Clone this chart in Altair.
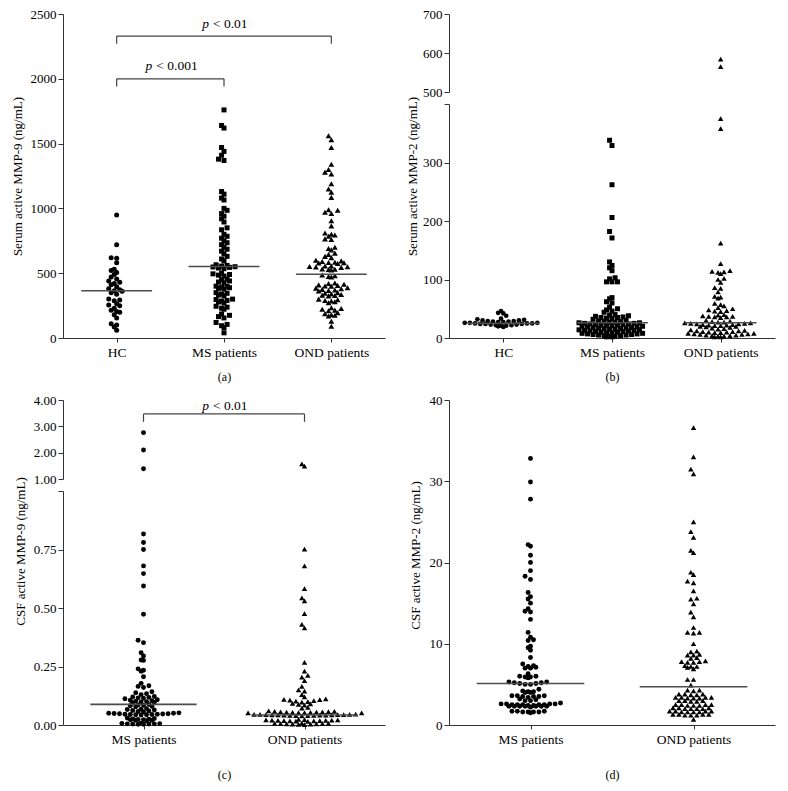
import math
import altair as alt
import pandas as pd

# ---------------- data ----------------
cats3 = ["HC", "MS patients", "OND patients"]
cats2 = ["MS patients", "OND patients"]

# (a) serum active MMP-9 (ng/mL)
hc_a = [950, 720, 620, 615, 580, 530, 520, 505, 490, 470, 455, 440, 430, 420, 410, 395,
        380, 372, 365, 360, 350, 338, 300, 293, 288, 265, 255, 248, 230, 215, 205, 198,
        180, 155, 110, 100, 85, 60]
ms_a = [1760, 1640, 1620, 1470, 1440, 1410, 1380, 1370,
        1130, 1110, 1080, 1065, 1000, 985, 960, 940, 920, 895, 850, 835,
        800, 785, 770, 750, 735, 720, 700, 685, 670, 650, 630, 610, 595,
        565, 560, 555, 550, 548, 545, 540, 535, 500, 495, 490, 485, 478,
        455, 450, 440, 432, 425, 400, 398, 392, 388, 383, 378,
        350, 345, 340, 332, 325, 300, 297, 290, 285, 278, 270,
        245, 238, 230, 222, 185, 175, 165, 155, 120, 105, 95, 80, 40]
ond_a = [1560, 1530, 1470, 1340, 1300, 1280, 1265, 1190, 1150, 1125, 1085,
         990, 985, 970, 960, 905, 865, 810, 800, 795, 785, 765, 760,
         700, 690, 680, 655, 645, 630, 620,
         600, 595, 590, 585, 582, 580, 578, 575, 556, 555, 552, 550, 548, 545,
         532, 530, 528, 525, 486, 480, 475, 470,
         425, 420, 415, 410, 405, 402, 400, 388, 385, 380, 375, 370, 366, 363,
         350, 345, 340, 335, 330, 328, 325, 300, 295, 290, 285, 280, 272,
         234, 228, 222, 215, 210, 195, 188, 180, 175, 170, 130, 90]
median_a = [365, 552, 492]

# (b) serum active MMP-2 (ng/mL)
hc_b = [46, 43, 42, 38, 33, 32, 31, 30, 30, 29, 29, 28, 28, 27, 27, 26, 26, 26, 25, 25,
        25, 24, 24, 24, 23, 23, 22, 22, 21, 21, 20, 19]
ms_b = [338, 329, 262, 206, 182, 171, 130, 124, 120, 115, 103, 101, 96, 96, 96,
        69, 67, 62, 60, 53, 50, 48, 46, 44, 40, 39, 38, 37, 36, 35, 35, 34, 33, 32,
        30, 29, 28, 28, 27, 27, 26, 26, 25, 25, 24, 24, 23, 23, 22, 22, 21, 21, 20, 20,
        19, 19, 18, 18, 17, 17, 16, 16, 15, 15, 14, 14, 13, 13, 12, 12, 11, 11, 10, 10,
        9, 9, 8, 8, 7, 7, 6, 6, 5, 5, 4, 4, 3, 3, 2, 2]
ond_b = [584, 565, 375, 358, 162, 127, 115, 114, 113, 112, 110, 102, 100, 95, 86, 85, 79,
         71, 70, 68, 59, 57, 55, 52, 50, 48, 47, 46, 45, 40, 39, 38, 37, 37, 36, 36, 35,
         30, 29, 28, 27, 27, 26, 26, 25, 25, 24, 24, 23, 23, 22, 22, 21, 21, 20, 20, 19,
         18, 17, 16, 15, 14, 13, 12, 12, 11, 11, 10, 10, 9, 9, 8, 8, 7, 7, 6, 6, 5, 5,
         4, 4, 3, 3, 2, 2]
median_b = [25, 26, 26]

# (c) CSF active MMP-9 (ng/mL)
ms_c = [2.76, 2.10, 1.39,
        0.816, 0.78, 0.75, 0.68, 0.647, 0.594, 0.473, 0.362, 0.352, 0.309, 0.295, 0.278,
        0.276, 0.240, 0.234, 0.230, 0.206, 0.178, 0.168, 0.165, 0.160, 0.142, 0.138,
        0.134, 0.130, 0.122, 0.120, 0.118, 0.116, 0.114, 0.112,
        0.108, 0.106, 0.104, 0.102, 0.100, 0.098, 0.096, 0.094,
        0.088, 0.086, 0.084, 0.082, 0.080, 0.078,
        0.070, 0.068, 0.066, 0.064, 0.062, 0.060, 0.058, 0.056,
        0.052, 0.050, 0.050, 0.049, 0.048, 0.048, 0.047, 0.046, 0.046, 0.045, 0.045,
        0.044, 0.044, 0.043,
        0.030, 0.028, 0.026, 0.025, 0.024, 0.023, 0.022, 0.020, 0.020, 0.018,
        0.008, 0.007, 0.006, 0.005, 0.005, 0.004, 0.004, 0.003, 0.003]
ond_c = [1.57, 1.49,
         0.752, 0.68, 0.583, 0.543, 0.53, 0.476, 0.43, 0.415, 0.268, 0.23, 0.212, 0.205,
         0.19, 0.165, 0.15, 0.145, 0.13, 0.12,
         0.112, 0.110, 0.108, 0.106, 0.104, 0.102, 0.100, 0.098,
         0.092, 0.090, 0.088, 0.085, 0.075, 0.072,
         0.060, 0.058, 0.058, 0.057, 0.056, 0.056, 0.055, 0.055, 0.054, 0.054, 0.053,
         0.053, 0.052, 0.052,
         0.046, 0.045, 0.045, 0.045, 0.044, 0.044, 0.044, 0.043, 0.043, 0.043, 0.042,
         0.042, 0.042, 0.041, 0.041, 0.040, 0.040, 0.039,
         0.024, 0.023, 0.022, 0.022, 0.021, 0.021, 0.020, 0.020, 0.019, 0.019, 0.018,
         0.018, 0.017, 0.016,
         0.008, 0.007, 0.007, 0.006, 0.006, 0.005, 0.005, 0.004, 0.004, 0.003, 0.002]
median_c = [0.088, 0.043]

# (d) CSF active MMP-2 (ng/mL)
ms_d = [32.8, 29.9, 27.8, 22.2, 22.0, 20.9, 20.0, 19.0, 18.3, 17.9, 16.3, 15.8, 15.5,
        15.0, 14.3, 14.0, 13.9, 13.0, 11.4, 10.8, 10.5, 10.4, 9.7, 9.5, 9.2, 8.3, 7.5,
        7.3, 7.2, 7.1, 7.0, 7.0, 6.3, 6.0, 6.0, 5.9, 5.9, 5.8, 5.3, 5.3, 5.2, 5.2, 5.1,
        5.1, 5.0, 5.0, 4.4, 4.2, 4.1, 4.1, 4.0, 4.0, 3.6, 3.6, 3.6, 3.5, 3.5, 3.5, 3.4,
        3.2, 3.1, 3.0, 3.0, 2.7, 2.6, 2.6, 2.6, 2.6, 2.5, 2.5, 2.5, 2.5, 2.5, 2.4, 2.4,
        2.3, 2.3, 2.3, 2.3, 2.3, 2.3, 2.3, 2.2, 1.7, 1.7, 1.7, 1.6, 1.6, 1.6, 1.6, 1.5]
ond_d = [36.6, 33.0, 31.5, 30.9, 25.0, 23.8, 23.1, 21.5, 21.2, 18.8, 18.5, 17.7, 17.5,
         16.5, 15.6, 15.5, 14.9, 13.9, 13.3, 12.0, 11.4, 11.4, 11.3, 10.0, 9.1, 9.0, 8.7,
         8.6, 8.6, 8.3, 8.2, 7.9, 7.8, 7.8, 7.7, 7.7, 7.3, 7.2, 7.2, 7.1, 6.9, 5.6, 5.6,
         4.9, 4.3, 4.3, 4.2, 3.8, 3.8, 3.8, 3.7, 3.7, 3.4, 3.4, 3.4, 3.4, 3.3, 3.3, 3.3,
         3.0, 3.0, 3.0, 2.9, 2.9, 2.5, 2.5, 2.5, 2.5, 2.4, 2.4, 2.4, 2.1, 2.1, 2.1, 2.0,
         2.0, 2.0, 2.0, 1.7, 1.7, 1.7, 1.7, 1.6, 1.6, 1.6, 1.6, 1.3, 1.3, 1.3, 1.3, 1.2,
         1.2, 1.2, 0.7]
median_d = [5.1, 4.7]

# significance brackets: from group, to group, bar level, drop, text level, label
brackets_a = [(0, 1, 2000, 60, 2100, "< 0.001"), (0, 2, 2330, 60, 2425, "< 0.01")]
brackets_c = [(0, 1, 3.47, 0.30, 3.78, "< 0.01")]

# ---------------- styling ----------------
FONT = "Liberation Serif"
AX = "#333333"
W1, W2 = 322, 326
H1, H2 = 324, 325
ROW = 3.5      # px height of a swarm row
REACH = 3.9    # vertical reach of a marker when packing


def swarm_offsets(values, ypix, dx):
    n = len(values)
    ys = [round(ypix(v) / ROW) * ROW for v in values]
    order = sorted(range(n), key=lambda i: values[i])
    placed, xs = [], [0.0] * n
    for i in order:
        y = ys[i]
        iv = []
        for xj, yj in placed:
            dy = abs(y - yj)
            if dy < REACH:
                w = dx * math.sqrt(1 - (dy / REACH) ** 2)
                iv.append((xj - w, xj + w))
        cands = [0.0] + [a for a, _ in iv] + [b for _, b in iv]
        cands.sort(key=lambda c: (abs(c), c))
        for c in cands:
            if all(not (a + 1e-6 < c < b - 1e-6) for a, b in iv):
                xs[i] = c
                break
        placed.append((xs[i], y))
    return xs


def points_frame(groups, shapes, sizes, ypix, step):
    rows = []
    for gi, vals in enumerate(groups):
        d = math.sqrt(sizes[gi]) + 0.5
        offs = swarm_offsets(vals, ypix, d)
        for v, o in zip(vals, offs):
            rows.append({"x": gi + o / step, "v": v, "shape": shapes[gi], "sz": sizes[gi]})
    return pd.DataFrame(rows)


def x_axis(cats, caption, cap_pad):
    arr = "[" + ",".join("'" + c + "'" for c in cats) + "]"
    return alt.Axis(values=list(range(len(cats))), labelExpr=arr + "[datum.value]",
                    title=caption, titleFontSize=12, titlePadding=cap_pad, tickSize=4,
                    labelPadding=3, domainColor=AX, tickColor=AX, labelFontSize=13.5)


def x_enc(cats, caption, cap_pad):
    return alt.X("x:Q", scale=alt.Scale(domain=[-0.5, len(cats) - 0.5], nice=False, zero=False),
                 axis=x_axis(cats, caption, cap_pad))


def y_axis(values, fmt, title, tpad, hide=None, title_y=None):
    kw = dict(values=values, format=fmt, tickSize=5, labelPadding=2, orient="left",
              domainColor=AX, tickColor=AX, labelFontSize=13, titleFontSize=13,
              titlePadding=tpad)
    kw["title"] = title
    if hide is not None:
        kw["labelExpr"] = "datum.value == %s ? '' : datum.label" % hide
    if title_y is not None:
        kw["titleY"] = title_y
    return alt.Axis(**kw)


def group_layers(pts, med, cats, caption, cap_pad, yscale, yaxis, brackets=None, keep=None):
    xe = x_enc(cats, caption, cap_pad)
    ye = alt.Y("v:Q", scale=yscale, axis=yaxis)
    df = pts if keep is None else pts[keep(pts["v"])]
    layers = [alt.Chart(df).mark_point(filled=True, opacity=1, color="black", strokeWidth=0)
              .encode(x=xe, y=ye, shape=alt.Shape("shape:N", scale=None),
                      size=alt.Size("sz:Q", scale=None))]
    if med is not None:
        mdf = pd.DataFrame({"x": [i - 0.33 for i in range(len(med))],
                            "x2": [i + 0.33 for i in range(len(med))], "v": med})
        layers.append(alt.Chart(mdf).mark_rule(color="#4d4d4d", strokeWidth=1.6)
                      .encode(x=xe, x2="x2:Q", y=ye))
    if brackets:
        h = pd.DataFrame({"x": [b[0] for b in brackets], "x2": [b[1] for b in brackets],
                          "v": [b[2] for b in brackets]})
        vt = pd.DataFrame({"x": [b[0] for b in brackets] + [b[1] for b in brackets],
                           "v": [b[2] - b[3] for b in brackets] * 2,
                           "v2": [b[2] for b in brackets] * 2})
        layers.append(alt.Chart(h).mark_rule(color="#444444", strokeWidth=1.2)
                      .encode(x=xe, x2="x2:Q", y=ye))
        layers.append(alt.Chart(vt).mark_rule(color="#444444", strokeWidth=1.2)
                      .encode(x=xe, y=ye, y2="v2:Q"))
        for b in brackets:
            one = pd.DataFrame({"x": [(b[0] + b[1]) / 2], "v": [b[4]], "t": [b[5]], "p": ["p"]})
            sp = -18 if len(b[5]) > 6 else -15
            layers.append(alt.Chart(one).mark_text(font=FONT, fontSize=13.5, fontStyle="italic",
                                                   align="right", baseline="middle", dx=sp)
                          .encode(x=xe, y=ye, text="p:N"))
            layers.append(alt.Chart(one).mark_text(font=FONT, fontSize=13.5, align="left",
                                                   baseline="middle", dx=sp + 4)
                          .encode(x=xe, y=ye, text="t:N"))
    return alt.layer(*layers)


# ---------------- panel (a) ----------------
ypa = lambda v: v * H1 / 2500
pa = points_frame([hc_a, ms_a, ond_a], ["circle", "square", "triangle-up"], [25, 25, 34],
                  ypa, W1 / 3)
panel_a = group_layers(pa, median_a, cats3, "(a)", 13,
                       alt.Scale(domain=[0, 2500], nice=False, zero=False),
                       y_axis([0, 500, 1000, 1500, 2000, 2500], "d",
                              "Serum active MMP-9 (ng/mL)", 6),
                       brackets=brackets_a).properties(width=W1, height=H1)

# ---------------- panel (b) (broken axis) ----------------
def ypb(v):
    return v * 234 / 400 if v <= 450 else 246 + (v - 500) * 78 / 200

pb = points_frame([hc_b, ms_b, ond_b], ["circle", "square", "triangle-up"], [22, 25, 30],
                  ypb, W2 / 3)
b_low = group_layers(pb, median_b, cats3, "(b)", 13,
                     alt.Scale(domain=[0, 400], range=[H1, H1 - 234], nice=False, zero=False),
                     y_axis([0, 100, 200, 300, 400], "d", "Serum active MMP-2 (ng/mL)", 3,
                            hide=400, title_y=H1 / 2),
                     keep=lambda s: s <= 400)
b_up = group_layers(pb, None, cats3, "(b)", 13,
                    alt.Scale(domain=[500, 700], range=[78, 0], nice=False, zero=False),
                    y_axis([500, 600, 700], "d", None, 3),
                    keep=lambda s: s >= 500)
panel_b = alt.layer(b_low, b_up).resolve_scale(y="independent").resolve_axis(
    y="independent").properties(width=W2, height=H1)

# ---------------- panel (c) (broken axis) ----------------
def ypc(v):
    return v * 234 if v <= 1.2 else 246 + (v - 1) * 79 / 3

pc = points_frame([ms_c, ond_c], ["circle", "triangle-up"], [24, 30], ypc, W1 / 2)
c_low = group_layers(pc, median_c, cats2, "(c)", 24,
                     alt.Scale(domain=[0, 1], range=[H2, H2 - 234], nice=False, zero=False),
                     y_axis([0, 0.25, 0.5, 0.75, 1.0], ".2f", "CSF active MMP-9 (ng/mL)", 6,
                            hide=1, title_y=151),
                     keep=lambda s: s <= 1)
c_up = group_layers(pc, None, cats2, "(c)", 24,
                    alt.Scale(domain=[1, 4], range=[79, 0], nice=False, zero=False),
                    y_axis([1, 2, 3, 4], ".2f", None, 6),
                    brackets=brackets_c, keep=lambda s: s > 1)
panel_c = alt.layer(c_low, c_up).resolve_scale(y="independent").resolve_axis(
    y="independent").properties(width=W1, height=H2)

# ---------------- panel (d) ----------------
ypd = lambda v: v * H2 / 40
pd_ = points_frame([ms_d, ond_d], ["circle", "triangle-up"], [24, 30], ypd, W2 / 2)
panel_d = group_layers(pd_, median_d, cats2, "(d)", 24,
                       alt.Scale(domain=[0, 40], nice=False, zero=False),
                       y_axis([0, 10, 20, 30, 40], "d", "CSF active MMP-2 (ng/mL)", 7,
                              title_y=155)).properties(width=W2, height=H2)

chart = alt.concat(panel_a, panel_b, panel_c, panel_d, columns=2,
                   spacing=alt.RowColnumber(row=62, column=64), bounds="flush").properties(
    padding={"left": 3, "top": 0, "right": 5, "bottom": 5}
).configure(font=FONT).configure_axis(
    grid=False, labelFont=FONT, titleFont=FONT, labelColor="black", titleColor="black",
    titleFontWeight="normal"
).configure_view(stroke=None)

chart.save("out.html", embed_options={"renderer": "svg", "actions": False})
